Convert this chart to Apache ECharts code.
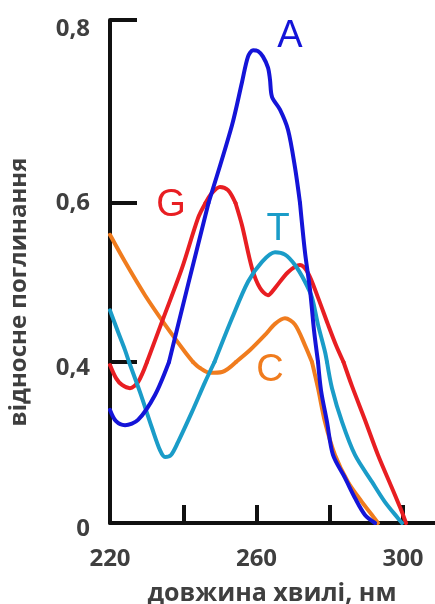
<!DOCTYPE html>
<html><head><meta charset="utf-8">
<script src="https://cdn.jsdelivr.net/npm/echarts@6/dist/echarts.min.js"></script>
<style>html,body{margin:0;padding:0;background:#fff}#c{width:435px;height:604px}</style>
</head><body><div id="c"></div>
<script>
// ---- data (wavelength nm, relative absorbance) ----
const curveNames = ['C', 'G', 'T', 'A'];
const curveC = [[220,0.56],[224.1,0.526],[229.56,0.484],[235.02,0.447],[240.48,0.4126],[242.66,0.4],[244.57,0.385],[247.3,0.373],[250.58,0.375],[254.4,0.4],[258.23,0.415],[262.32,0.434],[265.05,0.448],[267.78,0.455],[270.51,0.447],[273.24,0.421],[275.15,0.4],[276.79,0.335],[278.7,0.251],[281.43,0.169],[284.98,0.102],[288.81,0.052],[291.54,0.02],[293.17,0]];
const curveG = [[220,0.3925],[221.64,0.36],[223.28,0.343],[225.46,0.335],[227.65,0.35],[230.1,0.4],[234.47,0.454],[239.66,0.518],[244.03,0.581],[246.08,0.6],[247.85,0.611],[250.03,0.6175],[252.22,0.614],[254.27,0.6],[256.04,0.572],[258.77,0.518],[260.96,0.493],[263.14,0.484],[265.05,0.493],[268.6,0.513],[271.88,0.522],[274.06,0.512],[276.8,0.481],[279.53,0.447],[281.71,0.421],[283.75,0.4],[286.08,0.34],[289.62,0.256],[293.17,0.169],[296.99,0.087],[299.73,0.027],[300.82,0]];
const curveT = [[220,0.465],[222.18,0.438],[224.1,0.415],[225.19,0.4],[228.19,0.325],[231.47,0.236],[233.65,0.181],[235.02,0.164],[236.66,0.169],[238.57,0.201],[242.39,0.276],[245.95,0.35],[248.53,0.4],[253.31,0.455],[257.68,0.501],[261.5,0.526],[265.05,0.538],[267.78,0.535],[270.51,0.522],[273.24,0.501],[275.15,0.481],[276.79,0.447],[278.7,0.413],[279.25,0.4],[280.61,0.335],[283.35,0.251],[286.89,0.169],[291.54,0.102],[295.09,0.052],[298.63,0.012],[299.73,0]];
const curveA = [[220,0.281],[221.64,0.253],[224.1,0.243],[227.65,0.256],[232.29,0.318],[236.11,0.4],[241.3,0.497],[246.89,0.6],[253.31,0.685],[256.04,0.732],[257.68,0.76],[259.05,0.767],[260.41,0.766],[261.77,0.76],[263.14,0.748],[263.68,0.735],[264.23,0.716],[266.42,0.702],[268.6,0.68],[270.51,0.639],[271.88,0.6],[273.24,0.538],[274.61,0.491],[275.7,0.44],[276.8,0.4],[277.61,0.33],[279.25,0.251],[280.89,0.169],[284.16,0.112],[286.89,0.062],[289.62,0.02],[292.35,0]];
const curveColors = ['#f07c1e', '#e81e22', '#1a9cc8', '#1414d8'];
const xTickValues = [240, 260, 280, 300];
const xTickLabels = [220, 260, 300];
const yTickLabels = [0, 0.4, 0.6, 0.8];
const xTitle = 'довжина хвилі, нм';
const yTitle = 'відносне поглинання';

// ---- layout: the reference y axis is not uniformly spaced, so it is drawn in three bands ----
const xRange = [220, 220 + 325 / 3.6625];
const xPx = [110, 435];
const ySeg = [[0, 0.4], [0.4, 0.6], [0.6, 0.8]];
const ySegPx = [[523, 362], [362, 203], [203, 20]];
const yLabelPad = [12, 0, 18];

const curves = [curveC, curveG, curveT, curveA];
const eps = 1e-9;
// keep only the part of a curve that falls inside one band (breaks elsewhere)
function bandPart(data, lo, hi) {
  const out = [];
  data.forEach(p => {
    if (p[1] >= lo - eps && p[1] <= hi + eps) out.push(p);
    else if (out.length && out[out.length - 1][1] !== null) out.push([p[0], null]);
  });
  return out;
}
const labelFont = {color: '#3f3f3f', fontSize: 24, fontWeight: 'bold', fontFamily: 'Open Sans'};
const grids = [], xAxes = [], yAxes = [], series = [];
ySeg.forEach((ys, g) => {
  grids.push({left: xPx[0], width: xPx[1] - xPx[0], top: ySegPx[g][1], height: ySegPx[g][0] - ySegPx[g][1]});
  xAxes.push({gridIndex: g, type: 'value', min: xRange[0], max: xRange[1],
    axisLine: {show: g === 0, onZero: false, lineStyle: {color: '#111', width: 4}},
    axisTick: {show: g === 0, inside: true, length: 18, customValues: xTickValues, lineStyle: {color: '#111', width: 4}},
    axisLabel: {show: g === 0, margin: 24, customValues: xTickLabels, ...labelFont, formatter: v => String(v)},
    splitLine: {show: false}});
  const tickVals = yTickLabels.filter(v => v > ys[0] + eps && v <= ys[1] + eps);
  const labVals = yTickLabels.filter(v => (g === 0 ? v >= ys[0] - eps : v > ys[0] + eps) && v <= ys[1] + eps);
  yAxes.push({gridIndex: g, type: 'value', min: ys[0], max: ys[1],
    axisLine: {show: true, onZero: false, lineStyle: {color: '#111', width: 4}},
    axisTick: {show: true, inside: true, length: 27, customValues: tickVals, lineStyle: {color: '#111', width: 4}},
    axisLabel: {show: true, margin: 20, customValues: labVals,
      formatter: v => '{s|' + String(Math.round(v * 10) / 10).replace('.', ',') + '}',
      rich: {s: {...labelFont, padding: [yLabelPad[g], 0, 0, 0]}}},
    splitLine: {show: false}});
  curves.forEach((data, ci) => {
    series.push({type: 'line', name: curveNames[ci], xAxisIndex: g, yAxisIndex: g,
      data: bandPart(data, ys[0], ys[1]), connectNulls: false,
      smooth: 0.3, symbol: 'none', clip: true, silent: true,
      lineStyle: {width: 4, color: curveColors[ci], cap: 'round', join: 'round'}, z: 2 + ci});
  });
});

const letterFont = '38px "Liberation Sans"';
const letters = [
  {t: 'A', x: 290, y: 37, c: curveColors[3]},
  {t: 'G', x: 171, y: 206, c: curveColors[1]},
  {t: 'T', x: 278, y: 230, c: curveColors[2]},
  {t: 'C', x: 270, y: 371, c: curveColors[0]}
];
const graphic = letters.map(l => ({type: 'text', x: l.x, y: l.y, z: 10,
  style: {text: l.t, fill: l.c, font: letterFont, align: 'center', verticalAlign: 'middle'}}));
graphic.push({type: 'text', x: 272, y: 594, z: 10,
  style: {text: xTitle, fill: '#3f3f3f', font: 'bold 25px "Open Sans"', align: 'center', verticalAlign: 'middle'}});
graphic.push({type: 'text', x: 19, y: 292, rotation: Math.PI / 2, z: 10,
  style: {text: yTitle, fill: '#3f3f3f', font: 'bold 24px "Open Sans"', align: 'center', verticalAlign: 'middle'}});

const chart = echarts.init(document.getElementById('c'), null, {renderer: 'canvas'});
chart.setOption({animation: false, backgroundColor: '#fff', grid: grids, xAxis: xAxes, yAxis: yAxes, series: series, graphic: graphic});
</script></body></html>
